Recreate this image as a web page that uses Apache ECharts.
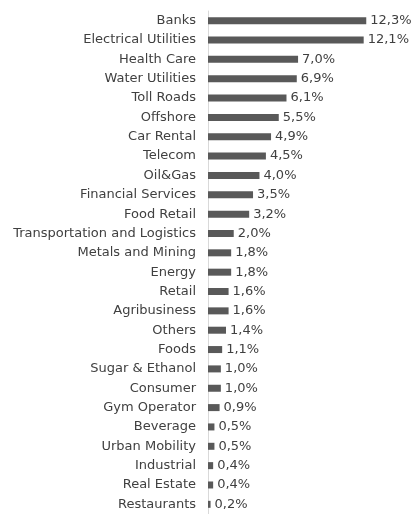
<!DOCTYPE html>
<html>
<head>
<meta charset="utf-8">
<script src="https://cdn.jsdelivr.net/npm/echarts@6/dist/echarts.min.js"></script>
<style>
  html, body { margin: 0; padding: 0; background: #fff; }
  #main { width: 412px; height: 514px; }
</style>
</head>
<body>
<div id="main"></div>
<script>
// sectors, top to bottom
var sectors = ['Banks', 'Electrical Utilities', 'Health Care', 'Water Utilities', 'Toll Roads',
  'Offshore', 'Car Rental', 'Telecom', 'Oil&Gas', 'Financial Services', 'Food Retail',
  'Transportation and Logistics', 'Metals and Mining', 'Energy', 'Retail', 'Agribusiness',
  'Others', 'Foods', 'Sugar & Ethanol', 'Consumer', 'Gym Operator', 'Beverage',
  'Urban Mobility', 'Industrial', 'Real Estate', 'Restaurants']
var weights = [12.3, 12.1, 7.0, 6.9, 6.1, 5.5, 4.9, 4.5, 4.0, 3.5, 3.2, 2.0, 1.8, 1.8, 1.6,
  1.6, 1.4, 1.1, 1.0, 1.0, 0.9, 0.5, 0.5, 0.4, 0.4, 0.2]

var chart = echarts.init(document.getElementById('main'))
chart.setOption({
  animation: false,
  textStyle: { fontFamily: 'DejaVu Sans' },
  grid: { left: 208, top: 11, width: 193, height: 504 },
  xAxis: {
    type: 'value',
    min: 0,
    max: 15,
    show: false
  },
  yAxis: {
    type: 'category',
    inverse: true,
    data: sectors,
    axisLine: { show: true, lineStyle: { color: '#d9d9d9', width: 1 } },
    axisTick: { show: false },
    axisLabel: { color: '#404040', fontSize: 13, margin: 12 }
  },
  series: [
    {
      type: 'bar',
      data: weights,
      barWidth: 7,
      itemStyle: { color: '#595959' },
      label: {
        show: true,
        position: 'right',
        distance: 4,
        color: '#404040',
        fontSize: 13,
        formatter: function (p) {
          return p.value.toFixed(1).replace('.', ',') + '%'
        }
      }
    }
  ]
})
</script>
</body>
</html>
